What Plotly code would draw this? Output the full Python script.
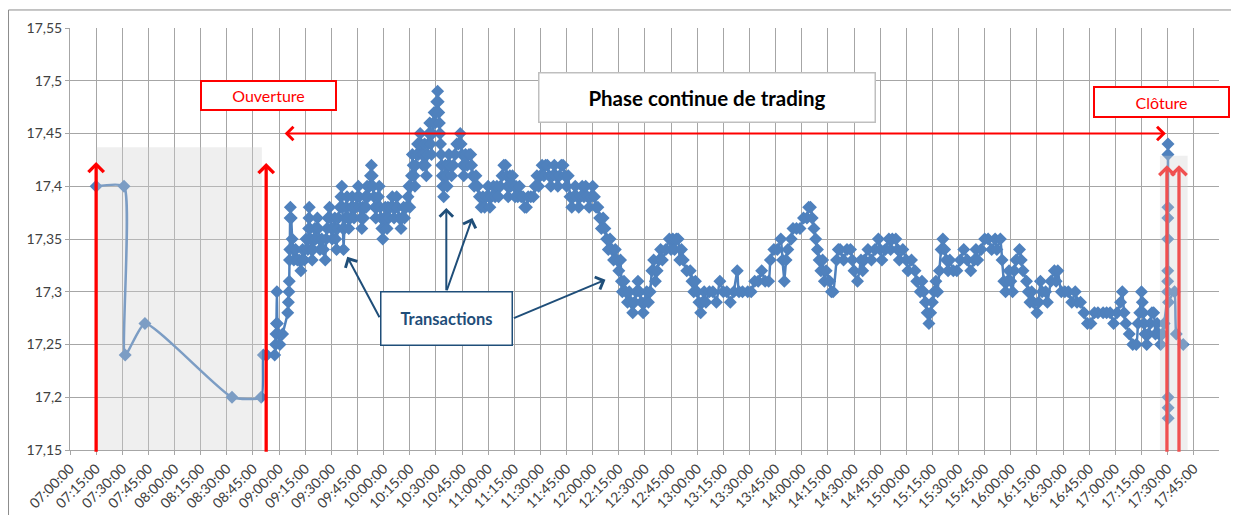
import plotly.graph_objects as go

DAY = "2013-01-01 "

# pré-ouverture (fixing)
preopen = [("07:15:00", 17.40), ("07:31:00", 17.40), ("07:31:40", 17.24), ("07:43:00", 17.27),
           ("08:33:00", 17.20), ("08:49:45", 17.20), ("08:51:00", 17.24)]

trades_09h = [
    ("08:53:00", 17.24), ("08:57:30", 17.24), ("08:58:00", 17.25), ("08:58:15", 17.26), ("08:58:30", 17.27),
    ("08:58:45", 17.30), ("08:59:00", 17.27), ("08:59:30", 17.26), ("09:00:30", 17.25), ("09:02:00", 17.26),
    ("09:05:00", 17.28), ("09:05:20", 17.29), ("09:05:40", 17.30), ("09:05:50", 17.31), ("09:06:00", 17.33),
    ("09:06:10", 17.34), ("09:06:20", 17.37), ("09:06:30", 17.38), ("09:07:00", 17.37), ("09:07:30", 17.35),
    ("09:08:00", 17.34), ("09:08:30", 17.33), ("09:09:30", 17.34), ("09:10:30", 17.33), ("09:11:30", 17.33),
    ("09:12:30", 17.32), ("09:13:00", 17.33), ("09:13:30", 17.34), ("09:14:30", 17.33), ("09:15:30", 17.35),
    ("09:16:30", 17.34), ("09:17:00", 17.36), ("09:17:10", 17.37), ("09:17:20", 17.38), ("09:17:40", 17.36),
    ("09:18:00", 17.35), ("09:18:30", 17.34), ("09:19:00", 17.33), ("09:19:30", 17.34), ("09:20:00", 17.35),
    ("09:20:30", 17.36), ("09:21:00", 17.35), ("09:22:00", 17.37), ("09:22:30", 17.36), ("09:23:00", 17.35),
    ("09:23:30", 17.34), ("09:24:30", 17.35), ("09:25:30", 17.34), ("09:26:30", 17.33), ("09:27:00", 17.35),
    ("09:27:30", 17.36), ("09:28:00", 17.37), ("09:29:00", 17.38), ("09:29:30", 17.37), ("09:30:00", 17.36),
    ("09:30:30", 17.35), ("09:31:00", 17.36), ("09:32:00", 17.37), ("09:32:30", 17.35), ("09:33:00", 17.34),
    ("09:33:30", 17.36), ("09:34:00", 17.37), ("09:35:00", 17.38), ("09:35:30", 17.39), ("09:36:00", 17.40),
    ("09:36:20", 17.38), ("09:36:40", 17.36), ("09:37:00", 17.34), ("09:37:30", 17.36), ("09:38:00", 17.37),
    ("09:38:30", 17.38), ("09:39:00", 17.39), ("09:39:30", 17.37), ("09:40:00", 17.36), ("09:41:00", 17.37),
    ("09:41:30", 17.38), ("09:42:00", 17.39), ("09:42:30", 17.38), ("09:43:00", 17.37), ("09:44:00", 17.38),
    ("09:45:00", 17.39), ("09:45:30", 17.40), ("09:46:00", 17.39), ("09:46:30", 17.38), ("09:47:00", 17.37),
    ("09:47:30", 17.36), ("09:48:00", 17.38), ("09:48:30", 17.37), ("09:49:00", 17.38), ("09:49:30", 17.39),
    ("09:50:00", 17.38), ("09:50:30", 17.40), ("09:51:00", 17.39), ("09:52:00", 17.40), ("09:52:30", 17.41),
    ("09:53:00", 17.42), ("09:53:30", 17.41), ("09:54:00", 17.40), ("09:54:30", 17.39), ("09:55:00", 17.38),
    ("09:55:30", 17.37), ("09:56:00", 17.38), ("09:57:00", 17.39), ("09:57:30", 17.40), ("09:58:00", 17.38),
    ("09:58:30", 17.37), ("09:59:00", 17.36), ("09:59:30", 17.35),
]

trades_10h = [
    ("10:00:00", 17.36), ("10:00:30", 17.37), ("10:01:00", 17.38), ("10:01:30", 17.37), ("10:02:00", 17.36),
    ("10:02:30", 17.38), ("10:03:00", 17.37), ("10:04:00", 17.38), ("10:05:00", 17.39), ("10:05:30", 17.38),
    ("10:06:00", 17.37), ("10:07:00", 17.38), ("10:07:30", 17.39), ("10:08:00", 17.38), ("10:09:00", 17.37),
    ("10:10:00", 17.36), ("10:10:30", 17.37), ("10:11:30", 17.38), ("10:12:00", 17.37), ("10:13:00", 17.38),
    ("10:14:00", 17.39), ("10:14:30", 17.40), ("10:15:00", 17.38), ("10:15:30", 17.40), ("10:16:00", 17.41),
    ("10:16:30", 17.43), ("10:17:00", 17.42), ("10:17:30", 17.41), ("10:18:00", 17.40), ("10:18:30", 17.42),
    ("10:19:00", 17.43), ("10:19:30", 17.44), ("10:20:00", 17.43), ("10:20:30", 17.44), ("10:21:00", 17.45),
    ("10:21:30", 17.44), ("10:22:00", 17.43), ("10:22:30", 17.42), ("10:23:00", 17.43), ("10:23:30", 17.44),
    ("10:24:00", 17.42), ("10:24:30", 17.41), ("10:25:00", 17.43), ("10:25:30", 17.44), ("10:26:00", 17.45),
    ("10:26:30", 17.46), ("10:27:00", 17.44), ("10:27:30", 17.43), ("10:28:00", 17.45), ("10:28:30", 17.46),
    ("10:29:00", 17.47), ("10:29:30", 17.46), ("10:30:00", 17.47), ("10:30:30", 17.48), ("10:31:00", 17.49),
    ("10:31:20", 17.48), ("10:31:40", 17.47), ("10:32:00", 17.46), ("10:32:20", 17.45), ("10:32:40", 17.44),
    ("10:33:00", 17.43), ("10:33:20", 17.42), ("10:33:40", 17.41), ("10:34:00", 17.40), ("10:34:30", 17.39),
    ("10:35:00", 17.41), ("10:35:30", 17.42), ("10:36:00", 17.41), ("10:36:30", 17.40), ("10:37:00", 17.42),
    ("10:37:30", 17.43), ("10:38:00", 17.42), ("10:39:00", 17.41), ("10:40:00", 17.42), ("10:41:00", 17.43),
    ("10:42:00", 17.44), ("10:43:00", 17.44), ("10:44:00", 17.45), ("10:44:30", 17.44), ("10:45:00", 17.43),
    ("10:45:30", 17.42), ("10:46:00", 17.41), ("10:46:30", 17.42), ("10:47:00", 17.43), ("10:48:00", 17.42),
    ("10:49:00", 17.43), ("10:50:00", 17.43), ("10:50:30", 17.42), ("10:51:00", 17.41), ("10:52:00", 17.40),
    ("10:53:00", 17.41), ("10:54:00", 17.40), ("10:55:00", 17.39), ("10:56:00", 17.38), ("10:57:00", 17.39),
    ("10:58:00", 17.38), ("10:59:00", 17.39),
]

trades_11h = [
    ("11:00:00", 17.40), ("11:00:30", 17.39), ("11:01:00", 17.38), ("11:02:00", 17.39), ("11:03:00", 17.40),
    ("11:04:00", 17.39), ("11:05:00", 17.40), ("11:06:00", 17.39), ("11:07:00", 17.40), ("11:08:00", 17.41),
    ("11:09:00", 17.42), ("11:10:00", 17.42), ("11:10:30", 17.41), ("11:11:00", 17.40), ("11:11:30", 17.39),
    ("11:12:00", 17.40), ("11:12:30", 17.41), ("11:13:00", 17.40), ("11:14:00", 17.41), ("11:15:00", 17.40),
    ("11:15:30", 17.39), ("11:16:00", 17.40), ("11:17:00", 17.39), ("11:18:00", 17.40), ("11:19:00", 17.39),
    ("11:20:00", 17.39), ("11:21:00", 17.38), ("11:22:00", 17.38), ("11:23:00", 17.39), ("11:24:30", 17.39),
    ("11:26:00", 17.39), ("11:27:00", 17.40), ("11:28:00", 17.41), ("11:29:00", 17.40), ("11:30:00", 17.41),
    ("11:31:00", 17.42), ("11:32:00", 17.41), ("11:33:00", 17.42), ("11:34:00", 17.42), ("11:35:00", 17.41),
    ("11:36:00", 17.40), ("11:37:00", 17.41), ("11:38:00", 17.42), ("11:39:00", 17.41), ("11:40:00", 17.40),
    ("11:41:00", 17.41), ("11:42:00", 17.42), ("11:43:00", 17.42), ("11:44:00", 17.41), ("11:45:00", 17.40),
    ("11:46:00", 17.41), ("11:47:00", 17.39), ("11:48:00", 17.38), ("11:49:00", 17.39), ("11:50:00", 17.40),
    ("11:51:00", 17.39), ("11:52:00", 17.38), ("11:53:00", 17.39), ("11:54:00", 17.40), ("11:55:00", 17.39),
    ("11:56:00", 17.40), ("11:57:00", 17.39), ("11:58:00", 17.38), ("11:59:00", 17.39),
]

trades_12h = [
    ("12:00:00", 17.40), ("12:01:00", 17.39), ("12:02:00", 17.38), ("12:03:00", 17.38), ("12:04:00", 17.37),
    ("12:05:00", 17.36), ("12:06:00", 17.37), ("12:07:00", 17.36), ("12:08:00", 17.35), ("12:09:00", 17.34),
    ("12:10:00", 17.35), ("12:11:00", 17.34), ("12:12:00", 17.33), ("12:13:00", 17.34), ("12:14:00", 17.33),
    ("12:15:00", 17.32), ("12:16:00", 17.33), ("12:16:30", 17.31), ("12:17:00", 17.30), ("12:18:00", 17.31),
    ("12:19:00", 17.30), ("12:20:00", 17.29), ("12:21:00", 17.30), ("12:22:00", 17.29), ("12:23:00", 17.28),
    ("12:24:00", 17.29), ("12:25:00", 17.30), ("12:26:00", 17.31), ("12:27:00", 17.30), ("12:28:00", 17.29),
    ("12:29:00", 17.28), ("12:30:00", 17.29), ("12:31:00", 17.30), ("12:32:00", 17.29), ("12:33:00", 17.30),
    ("12:34:00", 17.32), ("12:35:00", 17.33), ("12:36:00", 17.31), ("12:37:00", 17.32), ("12:38:00", 17.33),
    ("12:39:00", 17.34), ("12:40:00", 17.33), ("12:42:00", 17.34), ("12:44:00", 17.35), ("12:45:00", 17.34),
    ("12:46:00", 17.35), ("12:47:00", 17.34), ("12:48:00", 17.35), ("12:49:00", 17.35), ("12:50:00", 17.33),
    ("12:51:00", 17.34), ("12:52:00", 17.33), ("12:54:00", 17.32), ("12:56:00", 17.32), ("12:57:00", 17.31),
    ("12:58:00", 17.30), ("12:59:00", 17.31),
]

trades_13h = [
    ("13:00:00", 17.30), ("13:01:00", 17.29), ("13:02:00", 17.28), ("13:03:00", 17.29), ("13:04:00", 17.30),
    ("13:05:00", 17.29), ("13:07:00", 17.30), ("13:09:00", 17.30), ("13:11:00", 17.29), ("13:13:00", 17.31),
    ("13:15:00", 17.30), ("13:17:00", 17.30), ("13:19:00", 17.29), ("13:21:00", 17.30), ("13:23:00", 17.32),
    ("13:24:00", 17.30), ("13:26:00", 17.30), ("13:29:00", 17.30), ("13:31:00", 17.30), ("13:33:00", 17.31),
    ("13:35:00", 17.31), ("13:37:00", 17.32), ("13:39:00", 17.31), ("13:41:00", 17.31), ("13:42:00", 17.33),
    ("13:44:00", 17.34), ("13:46:00", 17.34), ("13:48:00", 17.35), ("13:49:00", 17.33), ("13:50:00", 17.31),
    ("13:51:00", 17.33), ("13:52:00", 17.34), ("13:54:00", 17.35), ("13:55:00", 17.36), ("13:57:00", 17.36),
    ("13:59:00", 17.36),
]

trades_14h = [
    ("14:01:00", 17.37), ("14:03:00", 17.37), ("14:04:00", 17.38), ("14:05:00", 17.38), ("14:06:00", 17.37),
    ("14:07:00", 17.36), ("14:08:00", 17.35), ("14:09:00", 17.34), ("14:10:00", 17.33), ("14:11:00", 17.32),
    ("14:12:00", 17.33), ("14:13:00", 17.31), ("14:14:00", 17.32), ("14:16:00", 17.31), ("14:17:00", 17.30),
    ("14:18:00", 17.30), ("14:20:00", 17.33), ("14:21:00", 17.34), ("14:22:00", 17.34), ("14:24:00", 17.33),
    ("14:26:00", 17.34), ("14:28:00", 17.34), ("14:29:00", 17.33), ("14:30:00", 17.32), ("14:32:00", 17.31),
    ("14:34:00", 17.33), ("14:35:00", 17.32), ("14:36:00", 17.33), ("14:38:00", 17.34), ("14:40:00", 17.33),
    ("14:42:00", 17.34), ("14:44:00", 17.35), ("14:45:00", 17.34), ("14:46:00", 17.33), ("14:48:00", 17.34),
    ("14:50:00", 17.35), ("14:51:00", 17.34), ("14:52:00", 17.35), ("14:54:00", 17.35), ("14:55:00", 17.34),
    ("14:56:00", 17.33), ("14:58:00", 17.34),
]

trades_15h = [
    ("15:00:00", 17.33), ("15:01:00", 17.32), ("15:03:00", 17.33), ("15:05:00", 17.32), ("15:06:00", 17.31),
    ("15:08:00", 17.30), ("15:09:00", 17.31), ("15:10:00", 17.30), ("15:11:00", 17.29), ("15:12:00", 17.28),
    ("15:13:00", 17.27), ("15:14:00", 17.28), ("15:15:00", 17.29), ("15:16:00", 17.30), ("15:17:00", 17.31),
    ("15:18:00", 17.30), ("15:19:00", 17.32), ("15:20:00", 17.34), ("15:21:00", 17.35), ("15:22:00", 17.34),
    ("15:23:00", 17.33), ("15:24:00", 17.32), ("15:25:00", 17.33), ("15:27:00", 17.32), ("15:29:00", 17.32),
    ("15:31:00", 17.33), ("15:33:00", 17.34), ("15:35:00", 17.33), ("15:37:00", 17.32), ("15:39:00", 17.33),
    ("15:40:00", 17.34), ("15:41:00", 17.33), ("15:43:00", 17.34), ("15:45:00", 17.35), ("15:47:00", 17.35),
    ("15:49:00", 17.34), ("15:51:00", 17.35), ("15:52:00", 17.34), ("15:54:00", 17.35), ("15:55:00", 17.33),
    ("15:56:00", 17.31), ("15:57:00", 17.30), ("15:58:00", 17.31), ("15:59:00", 17.32),
]

trades_16h = [
    ("16:00:00", 17.31), ("16:01:00", 17.30), ("16:02:00", 17.32), ("16:03:00", 17.33), ("16:05:00", 17.34),
    ("16:06:00", 17.33), ("16:07:00", 17.32), ("16:09:00", 17.31), ("16:10:00", 17.30), ("16:11:00", 17.29),
    ("16:12:00", 17.30), ("16:13:00", 17.29), ("16:15:00", 17.28), ("16:16:00", 17.29), ("16:17:00", 17.31),
    ("16:18:00", 17.30), ("16:20:00", 17.30), ("16:21:00", 17.29), ("16:23:00", 17.31), ("16:25:00", 17.32),
    ("16:26:00", 17.31), ("16:27:00", 17.32), ("16:29:00", 17.30), ("16:31:00", 17.30), ("16:33:00", 17.30),
    ("16:35:00", 17.29), ("16:37:00", 17.30), ("16:38:00", 17.29), ("16:40:00", 17.29), ("16:42:00", 17.28),
    ("16:44:00", 17.27), ("16:46:00", 17.27), ("16:48:00", 17.28), ("16:50:00", 17.28), ("16:53:00", 17.28),
    ("16:55:00", 17.28), ("16:57:00", 17.28), ("16:59:00", 17.27),
]

trades_17h = [
    ("17:01:00", 17.28), ("17:03:00", 17.29), ("17:04:00", 17.30), ("17:05:00", 17.28), ("17:06:00", 17.27),
    ("17:08:00", 17.26), ("17:10:00", 17.25), ("17:12:00", 17.25), ("17:13:00", 17.27), ("17:14:00", 17.28),
    ("17:15:00", 17.30), ("17:15:30", 17.29), ("17:16:00", 17.28), ("17:16:30", 17.27), ("17:17:00", 17.26),
    ("17:18:00", 17.25), ("17:19:00", 17.26), ("17:20:00", 17.27), ("17:21:00", 17.28), ("17:22:00", 17.28),
    ("17:23:00", 17.26), ("17:24:00", 17.27), ("17:25:00", 17.26), ("17:26:00", 17.25), ("17:27:00", 17.26),
    ("17:28:00", 17.27),
]

# fixing de clôture
closing = [("17:30:00", 17.30), ("17:30:02", 17.31), ("17:30:04", 17.32), ("17:30:06", 17.35),
           ("17:30:08", 17.37), ("17:30:10", 17.38), ("17:30:12", 17.43), ("17:30:14", 17.44),
           ("17:30:16", 17.20), ("17:30:18", 17.19), ("17:30:20", 17.18), ("17:30:30", 17.29),
           ("17:34:00", 17.30), ("17:35:00", 17.26), ("17:39:00", 17.25)]

y_ticks = [17.15, 17.20, 17.25, 17.30, 17.35, 17.40, 17.45, 17.50, 17.55]
y_labels = ["17,15", "17,2", "17,25", "17,3", "17,35", "17,4", "17,45", "17,5", "17,55"]

trades = preopen + trades_09h + trades_10h + trades_11h + trades_12h + trades_13h + \
    trades_14h + trades_15h + trades_16h + trades_17h + closing

fig = go.Figure()
fig.add_trace(go.Scatter(
    x=[DAY + t for t, _ in trades], y=[p for _, p in trades],
    mode="lines+markers",
    line=dict(color="#4f81bd", width=2.5, shape="spline", smoothing=0.5),
    marker=dict(symbol="diamond", size=10, color="#4f81bd"),
    showlegend=False))

FONT = "Lato, Calibri, sans-serif"

# zones grisées (pré-ouverture et clôture)
fig.add_shape(type="rect", xref="x", yref="y", x0=DAY + "07:15:20", x1=DAY + "08:50:08",
              y0=17.15, y1=17.437, fillcolor="rgba(210,210,210,0.35)", line_width=0, layer="above")
fig.add_shape(type="rect", xref="x", yref="y", x0=DAY + "17:25:36", x1=DAY + "17:41:30",
              y0=17.15, y1=17.429, fillcolor="rgba(210,210,210,0.35)", line_width=0, layer="above")
# cadre du graphique
fig.add_shape(type="rect", xref="paper", yref="paper", x0=-0.0535, x1=1.2, y0=-0.3, y1=1.0427,
              line=dict(color="#8c8c8c", width=1), fillcolor="rgba(0,0,0,0)", layer="below")


def arrow(x, y, ax, ay, color, width, size=1.0, both=False):
    a = dict(x=DAY + x, y=y, ax=DAY + ax, ay=ay, xref="x", yref="y", axref="x", ayref="y",
             text="", showarrow=True, arrowhead=4, arrowsize=size, arrowwidth=width,
             arrowcolor=color, standoff=0, startstandoff=0)
    if both:
        a.update(arrowside="end+start", startarrowhead=4, startarrowsize=size)
    fig.add_annotation(**a)


# flèches rouges
arrow("07:15:00", 17.423, "07:15:00", 17.147, "#ff0000", 3.3, 0.9)
arrow("08:52:36", 17.422, "08:52:36", 17.147, "#ff0000", 3.3, 0.9)
arrow("17:29:37", 17.420, "17:29:37", 17.147, "#f05050", 3.3, 0.9)
arrow("17:36:32", 17.420, "17:36:32", 17.147, "#f05050", 3.3, 0.9)
arrow("17:29:00", 17.45, "09:02:20", 17.45, "#ff0000", 2, 1.3, both=True)

# flèches "Transactions"
arrow("09:39:08", 17.3331, "09:58:05", 17.2744, "#1f4e79", 2, 1.3)
arrow("10:36:00", 17.3795, "10:36:00", 17.30, "#1f4e79", 2, 1.3)
arrow("10:50:56", 17.370, "10:36:00", 17.30, "#1f4e79", 2, 1.3)
arrow("12:07:20", 17.3113, "11:13:55", 17.2744, "#1f4e79", 2, 1.3)

# encadrés
fig.add_annotation(x=DAY + "08:54:00", y=17.486, xref="x", yref="y", text="Ouverture",
                   showarrow=False, font=dict(color="#ff0000", size=16, family=FONT),
                   bgcolor="white", bordercolor="#ff0000", borderwidth=2, borderpad=0,
                   width=133, height=27)
fig.add_annotation(x=DAY + "13:05:40", y=17.4837, xref="x", yref="y",
                   text="<b>Phase continue de trading</b>",
                   showarrow=False, font=dict(color="#000000", size=20.5, family=FONT),
                   bgcolor="white", bordercolor="#bfbfbf", borderwidth=1.5, borderpad=0,
                   width=335, height=48)
fig.add_annotation(x=DAY + "17:26:30", y=17.480, xref="x", yref="y", text="Clôture",
                   showarrow=False, font=dict(color="#ff0000", size=16, family=FONT),
                   bgcolor="white", bordercolor="#ff0000", borderwidth=2, borderpad=0,
                   width=133, height=28)
fig.add_annotation(x=DAY + "10:36:00", y=17.2744, xref="x", yref="y", text="<b>Transactions</b>",
                   showarrow=False, font=dict(color="#1f4e79", size=16.5, family=FONT),
                   bgcolor="white", bordercolor="#1f4e79", borderwidth=1.5, borderpad=0,
                   width=130, height=52)

# la page ajoute 8 px de marge au corps : on décale la figure en conséquence
fig.update_layout(
    width=1231, height=507,
    margin=dict(l=62, r=20, t=20, b=65),
    paper_bgcolor="white", plot_bgcolor="white",
    font=dict(family=FONT, size=14, color="#404040"),
    showlegend=False,
)
fig.update_xaxes(
    type="date", range=[DAY + "07:00:00", DAY + "17:59:30"], automargin=False,
    tick0=DAY + "07:00:00", dtick=15 * 60 * 1000, tickformat="%H:%M:%S", tickangle=-45,
    showgrid=True, gridcolor="#a6a6a6", gridwidth=1,
    showline=True, linecolor="#a6a6a6", linewidth=1,
    ticks="outside", ticklen=4, tickcolor="#a6a6a6",
    tickfont=dict(size=14, color="#404040", family=FONT), zeroline=False,
)
fig.update_yaxes(
    range=[17.15, 17.55], tickvals=y_ticks, ticktext=y_labels, automargin=False,
    showgrid=True, gridcolor="#a6a6a6", gridwidth=1,
    showline=True, linecolor="#a6a6a6", linewidth=1,
    ticks="outside", ticklen=4, tickcolor="#a6a6a6",
    tickfont=dict(size=14, color="#404040", family=FONT), zeroline=False,
)

fig.write_html("out.html")
